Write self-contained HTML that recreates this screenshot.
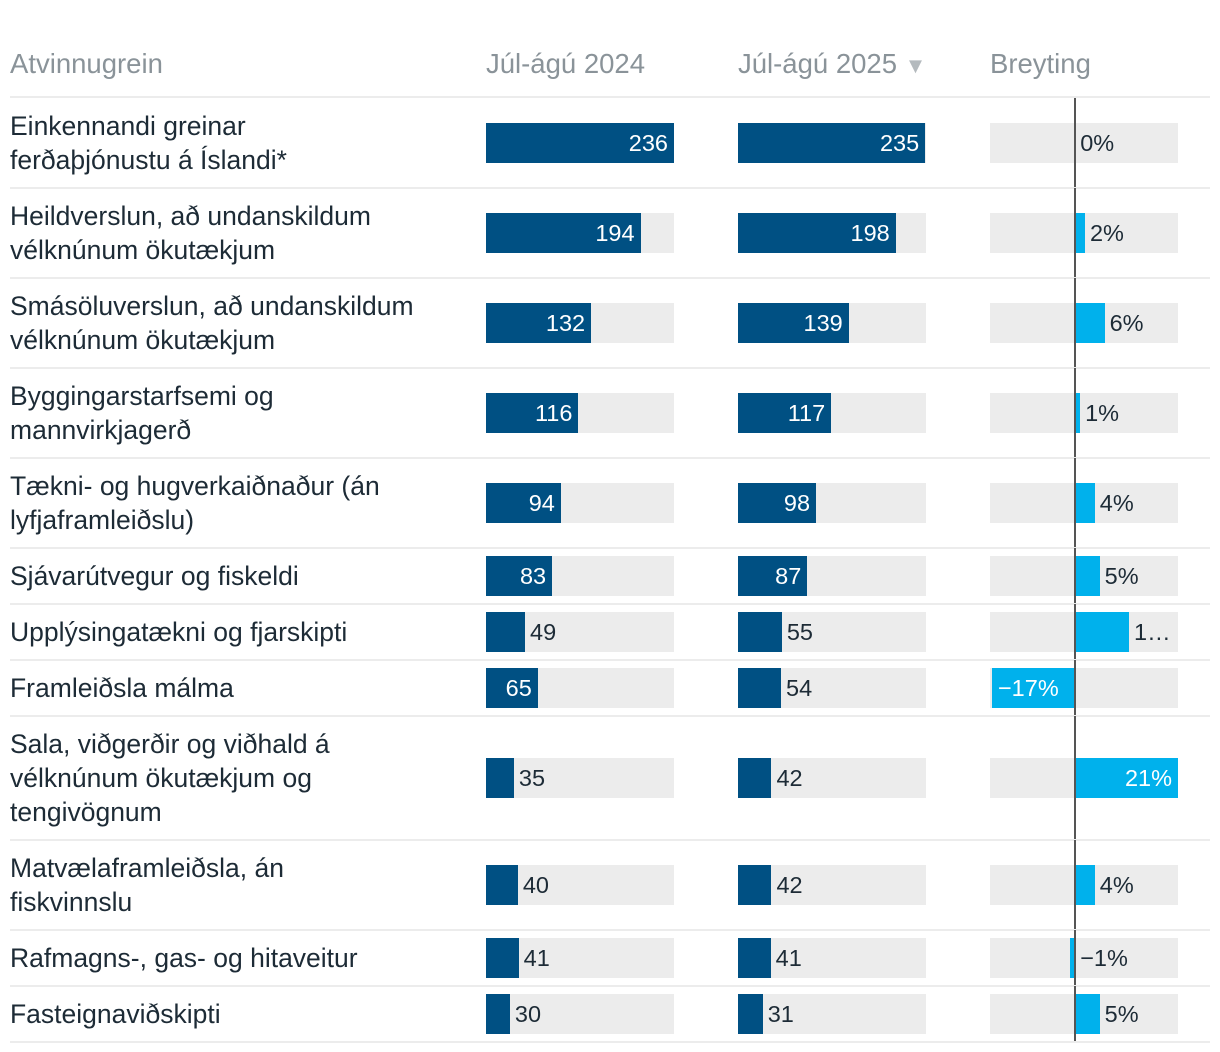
<!DOCTYPE html>
<html><head><meta charset="utf-8">
<style>
body{margin:0;background:#fff;width:1220px;height:1052px;overflow:hidden;font-family:"Liberation Sans",sans-serif;position:relative}
.a{position:absolute}
.hdr{top:47px;font-size:27.5px;color:#8a9399;line-height:34px}
.name{left:10px;font-size:26.5px;color:#1d2b36;line-height:34px;width:460px;white-space:nowrap}
.sep{left:10px;width:1200px;height:2px;background:#ececec}
.bg{background:#ececec;height:40px}
.lbl{font-size:23.5px;line-height:40px;height:40px;white-space:nowrap}
</style></head><body>
<div class="a hdr" style="left:10px">Atvinnugrein</div>
<div class="a hdr" style="left:486px">Júl-ágú 2024</div>
<div class="a hdr" style="left:738px">Júl-ágú 2025 <span style="color:#b4babe;font-size:22px">▼</span></div>
<div class="a hdr" style="left:990px">Breyting</div>
<div class="a sep" style="top:96px"></div>
<div id="rows"></div>
<script>
const categories=["Einkennandi greinar<br>ferðaþjónustu á Íslandi*","Heildverslun, að undanskildum<br>vélknúnum ökutækjum","Smásöluverslun, að undanskildum<br>vélknúnum ökutækjum","Byggingarstarfsemi og<br>mannvirkjagerð","Tækni- og hugverkaiðnaður (án<br>lyfjaframleiðslu)","Sjávarútvegur og fiskeldi","Upplýsingatækni og fjarskipti","Framleiðsla málma","Sala, viðgerðir og viðhald á<br>vélknúnum ökutækjum og<br>tengivögnum","Matvælaframleiðsla, án<br>fiskvinnslu","Rafmagns-, gas- og hitaveitur","Fasteignaviðskipti"];
const values2024=[236,194,132,116,94,83,49,65,35,40,41,30];
const values2025=[235,198,139,117,98,87,55,54,42,42,41,31];
const changes=[0,2,6,1,4,5,11,-17,21,4,-1,5];
const rowsEl=document.getElementById('rows');
const maxV=236, barW=188;
const cMin=-17.4, cMax=21;
const cx=v=>990+(v-cMin)/(cMax-cMin)*188;
let y=98;
function add(cls,style,html,name){const d=document.createElement('div');d.className='a '+cls;d.style.cssText=style;if(html)d.innerHTML=html;


rowsEl.appendChild(d);return d;}
categories.forEach((c,i)=>{
  const lines=c.split('<br>').length;
  const h=lines===1?56:lines===2?90:124;
  const mid=y+h/2;
  add('name','top:'+(mid-lines*17)+'px',c,'row-name');
  [[values2024,486],[values2025,738]].forEach(([arr,x0])=>{
    const v=arr[i];const w=v/maxV*barW;
    add('bg','left:'+x0+'px;top:'+(mid-20)+'px;width:'+barW+'px','', 'bar-background');
    add('','left:'+x0+'px;top:'+(mid-20)+'px;width:'+w+'px;height:40px;background:#005083','','value-bar');
    if(w>50) add('lbl','left:'+x0+'px;top:'+(mid-20)+'px;width:'+(w-6)+'px;text-align:right;color:#fff',String(v),'value-label');
    else add('lbl','left:'+(x0+w+5)+'px;top:'+(mid-20)+'px;color:#1d2b36',String(v),'value-label');
  });
  const ch=changes[i];const z=cx(0);const e=cx(ch);
  add('bg','left:990px;top:'+(mid-20)+'px;width:188px','','change-background');
  add('','left:'+Math.min(z,e)+'px;top:'+(mid-20)+'px;width:'+Math.max(Math.abs(e-z),ch===0?0:5)+'px;height:40px;background:#00b1ec','','change-bar');
  const txt=(ch<0?'−':'')+Math.abs(ch)+'%';
  if(ch<-10) add('lbl','left:'+(e+6)+'px;top:'+(mid-20)+'px;color:#fff',txt,'change-label');
  else if(ch>18) add('lbl','left:'+z+'px;top:'+(mid-20)+'px;width:'+(e-z-6)+'px;text-align:right;color:#fff',txt,'change-label');
  else{const s=Math.max(z,e)+5;const avail=1178-s;add('lbl','left:'+s+'px;top:'+(mid-20)+'px;color:#1d2b36',avail<48?txt[0]+'…':txt,'change-label');}
  add('','left:1074px;top:'+y+'px;width:2px;height:'+h+'px;background:#555','','zero-line');
  y+=h;
  add('sep','top:'+(y-1)+'px','','row-separator');
});
</script>
</body></html>
